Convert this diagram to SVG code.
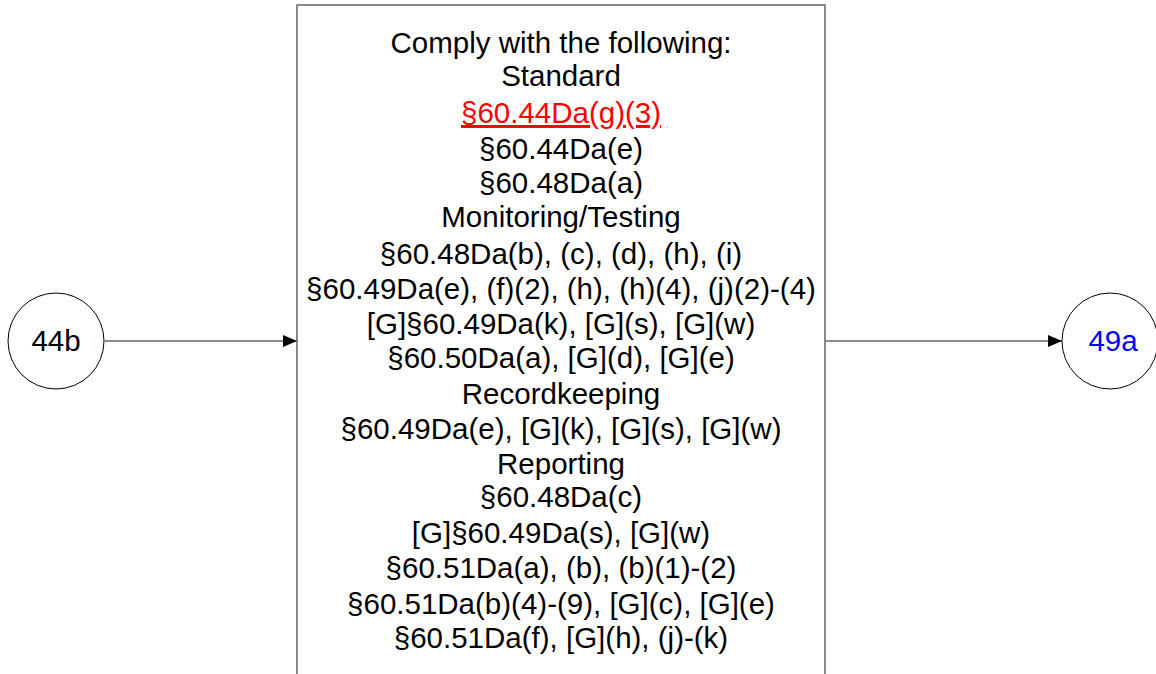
<svg xmlns="http://www.w3.org/2000/svg" width="1156" height="674" viewBox="0 0 1156 674">
<style>
text{font-family:"Liberation Sans",Arial,sans-serif;font-size:29.5px;fill:#000;text-anchor:middle}
.node{fill:#fff;stroke:#000;stroke-width:1}
.box{fill:#fff;stroke:#666;stroke-width:1.5}
.edge{stroke:#666;stroke-width:1.5;fill:none}
.link{fill:#f00;text-decoration:underline}
.blue{fill:#00f}
</style>
<defs>
<marker id="arr" viewBox="0 0 14 12" refX="14" refY="6" markerWidth="14" markerHeight="12" markerUnits="userSpaceOnUse" orient="auto">
<path d="M0,0 L14,6 L0,12 z" fill="#000"/>
</marker>
</defs>
<rect width="1156" height="674" fill="#fff"/>
<g id="connectors">
<line class="edge" x1="105" y1="341" x2="297" y2="341" marker-end="url(#arr)"/>
<line class="edge" x1="825" y1="341" x2="1062" y2="341" marker-end="url(#arr)"/>
</g>
<g id="n44b">
<circle class="node" cx="56" cy="341" r="48"/>
<text x="56" y="351">44b</text>
</g>
<g id="n49a">
<circle class="node" cx="1110" cy="341" r="48"/>
<text class="blue" x="1113" y="351">49a</text>
</g>
<g id="main">
<rect class="box" x="297" y="5" width="528" height="700"/>
<text x="561" y="53">Comply with the following:</text>
<text x="561" y="86">Standard</text>
<text class="link" x="561" y="123">§60.44Da(g)(3)</text>
<text x="561" y="159">§60.44Da(e)</text>
<text x="561" y="193">§60.48Da(a)</text>
<text x="561" y="227">Monitoring/Testing</text>
<text x="561" y="264">§60.48Da(b), (c), (d), (h), (i)</text>
<text x="561" y="299">§60.49Da(e), (f)(2), (h), (h)(4), (j)(2)-(4)</text>
<text x="561" y="334">[G]§60.49Da(k), [G](s), [G](w)</text>
<text x="561" y="368">§60.50Da(a), [G](d), [G](e)</text>
<text x="561" y="404">Recordkeeping</text>
<text x="561" y="439">§60.49Da(e), [G](k), [G](s), [G](w)</text>
<text x="561" y="474">Reporting</text>
<text x="561" y="507">§60.48Da(c)</text>
<text x="561" y="543">[G]§60.49Da(s), [G](w)</text>
<text x="561" y="578">§60.51Da(a), (b), (b)(1)-(2)</text>
<text x="561" y="614">§60.51Da(b)(4)-(9), [G](c), [G](e)</text>
<text x="561" y="648">§60.51Da(f), [G](h), (j)-(k)</text>
</g>
</svg>
